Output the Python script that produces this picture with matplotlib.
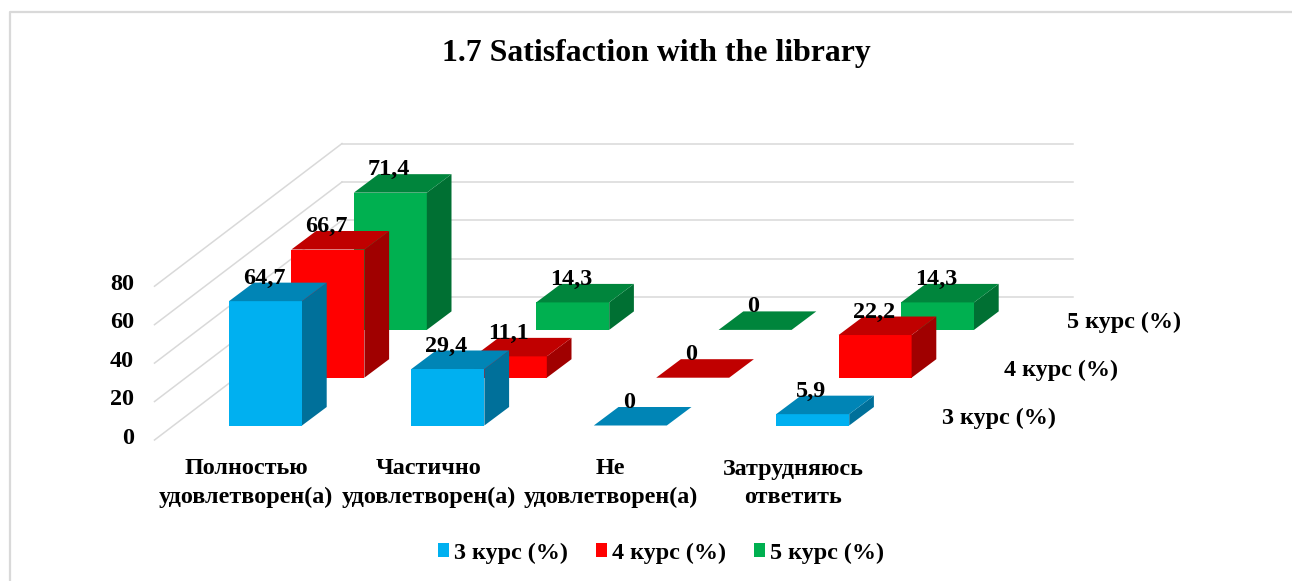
import matplotlib.pyplot as plt
from matplotlib.patches import Polygon, Patch

plt.rcParams['font.family'] = ['Liberation Serif', 'DejaVu Serif']
plt.rcParams['font.weight'] = 'bold'

categories = ['Полностью\nудовлетворен(а)', 'Частично\nудовлетворен(а)', 'Не\nудовлетворен(а)', 'Затрудняюсь\nответить']
series_names = ['3 курс (%)', '4 курс (%)', '5 курс (%)']
kurs3 = [64.7, 29.4, 0, 5.9]
kurs4 = [66.7, 11.1, 0, 22.2]
kurs5 = [71.4, 14.3, 0, 14.3]
y_ticks = [0, 20, 40, 60, 80]

values = [kurs3, kurs4, kurs5]
front_colors = ['#00B0F0', '#FF0000', '#00B050']
top_colors = ['#0085B6', '#C00000', '#00853C']
side_colors = ['#00709A', '#A00000', '#007033']
grid_color = '#D9D9D9'
txt_size = 17.4

# pixel layout of the oblique view
x0, y0 = 229, 425.5
bar_w = 73
cat_step = 182.4
ser_dx, ser_dy = 62.4, -47.8
dep_dx, dep_dy = 24.7, -18.5
unit = 1.922


def fmt(v):
    return str(v).replace('.', ',')


def front_xy(c, s, v=0):
    return x0 + c * cat_step + s * ser_dx, y0 + s * ser_dy - v * unit


fig = plt.figure(figsize=(12.92, 5.81), dpi=100)
ax = fig.add_axes([0, 0, 1, 1])
ax.set_xlim(0, 1292)
ax.set_ylim(581, 0)
ax.axis('off')

# outer frame
ax.plot([9.5, 9.5, 1292], [581, 11.5, 11.5], color=grid_color, lw=1.6, zorder=1)

ax.text(656, 54, '1.7 Satisfaction with the library', ha='center', va='center', fontsize=22.9)

# walls
for t in y_ticks:
    yf = 440 - t * unit
    ax.plot([154.5, 342], [yf, yf - 142.7], color=grid_color, lw=1.1, zorder=1)
    ax.plot([342, 1073], [yf - 142.7, yf - 142.7], color=grid_color, lw=1.1, zorder=1)
    ax.text(134, yf - 2, str(t), ha='right', va='center', fontsize=txt_size)

# bars, back row first
z = 2
for s in [2, 1, 0]:
    for c in range(len(categories)):
        v = values[s][c]
        xl, yb = front_xy(c, s)
        yt = yb - v * unit
        xr = xl + bar_w
        if v > 0:
            ax.add_patch(Polygon([(xl, yb), (xr, yb), (xr, yt), (xl, yt)], fc=front_colors[s], ec='none', zorder=z))
            ax.add_patch(Polygon([(xr, yb), (xr + dep_dx, yb + dep_dy), (xr + dep_dx, yt + dep_dy), (xr, yt)],
                                 fc=side_colors[s], ec='none', zorder=z))
        ax.add_patch(Polygon([(xl, yt), (xr, yt), (xr + dep_dx, yt + dep_dy), (xl + dep_dx, yt + dep_dy)],
                             fc=top_colors[s], ec='none', zorder=z))
        z += 1

# value labels on top of everything
for s in range(3):
    for c in range(len(categories)):
        xl, yt = front_xy(c, s, values[s][c])
        ax.text(xl + bar_w / 2 - 1.5, yt - 23, fmt(values[s][c]), ha='center', va='center', fontsize=txt_size, zorder=50)

for c, name in enumerate(categories):
    first, second = name.split('\n')
    xc = x0 + c * cat_step + 17
    ax.text(xc, 469, first, ha='center', va='center', fontsize=txt_size)
    ax.text(xc, 497.5, second, ha='center', va='center', fontsize=txt_size)

# depth axis labels
for s, name in enumerate(series_names):
    ax.text(942 + s * ser_dx, 418 + s * ser_dy, name, ha='left', va='center', fontsize=txt_size)

handles = [Patch(fc=col, ec='none', label=n) for col, n in zip(front_colors, series_names)]
ax.legend(handles=handles, ncol=3, loc='center', bbox_to_anchor=(661 / 1292, 1 - 553 / 581), frameon=False,
          fontsize=txt_size, handlelength=0.46, handleheight=0.46, handletextpad=0.2, columnspacing=1.16)

fig.savefig('out.png', dpi=100)
